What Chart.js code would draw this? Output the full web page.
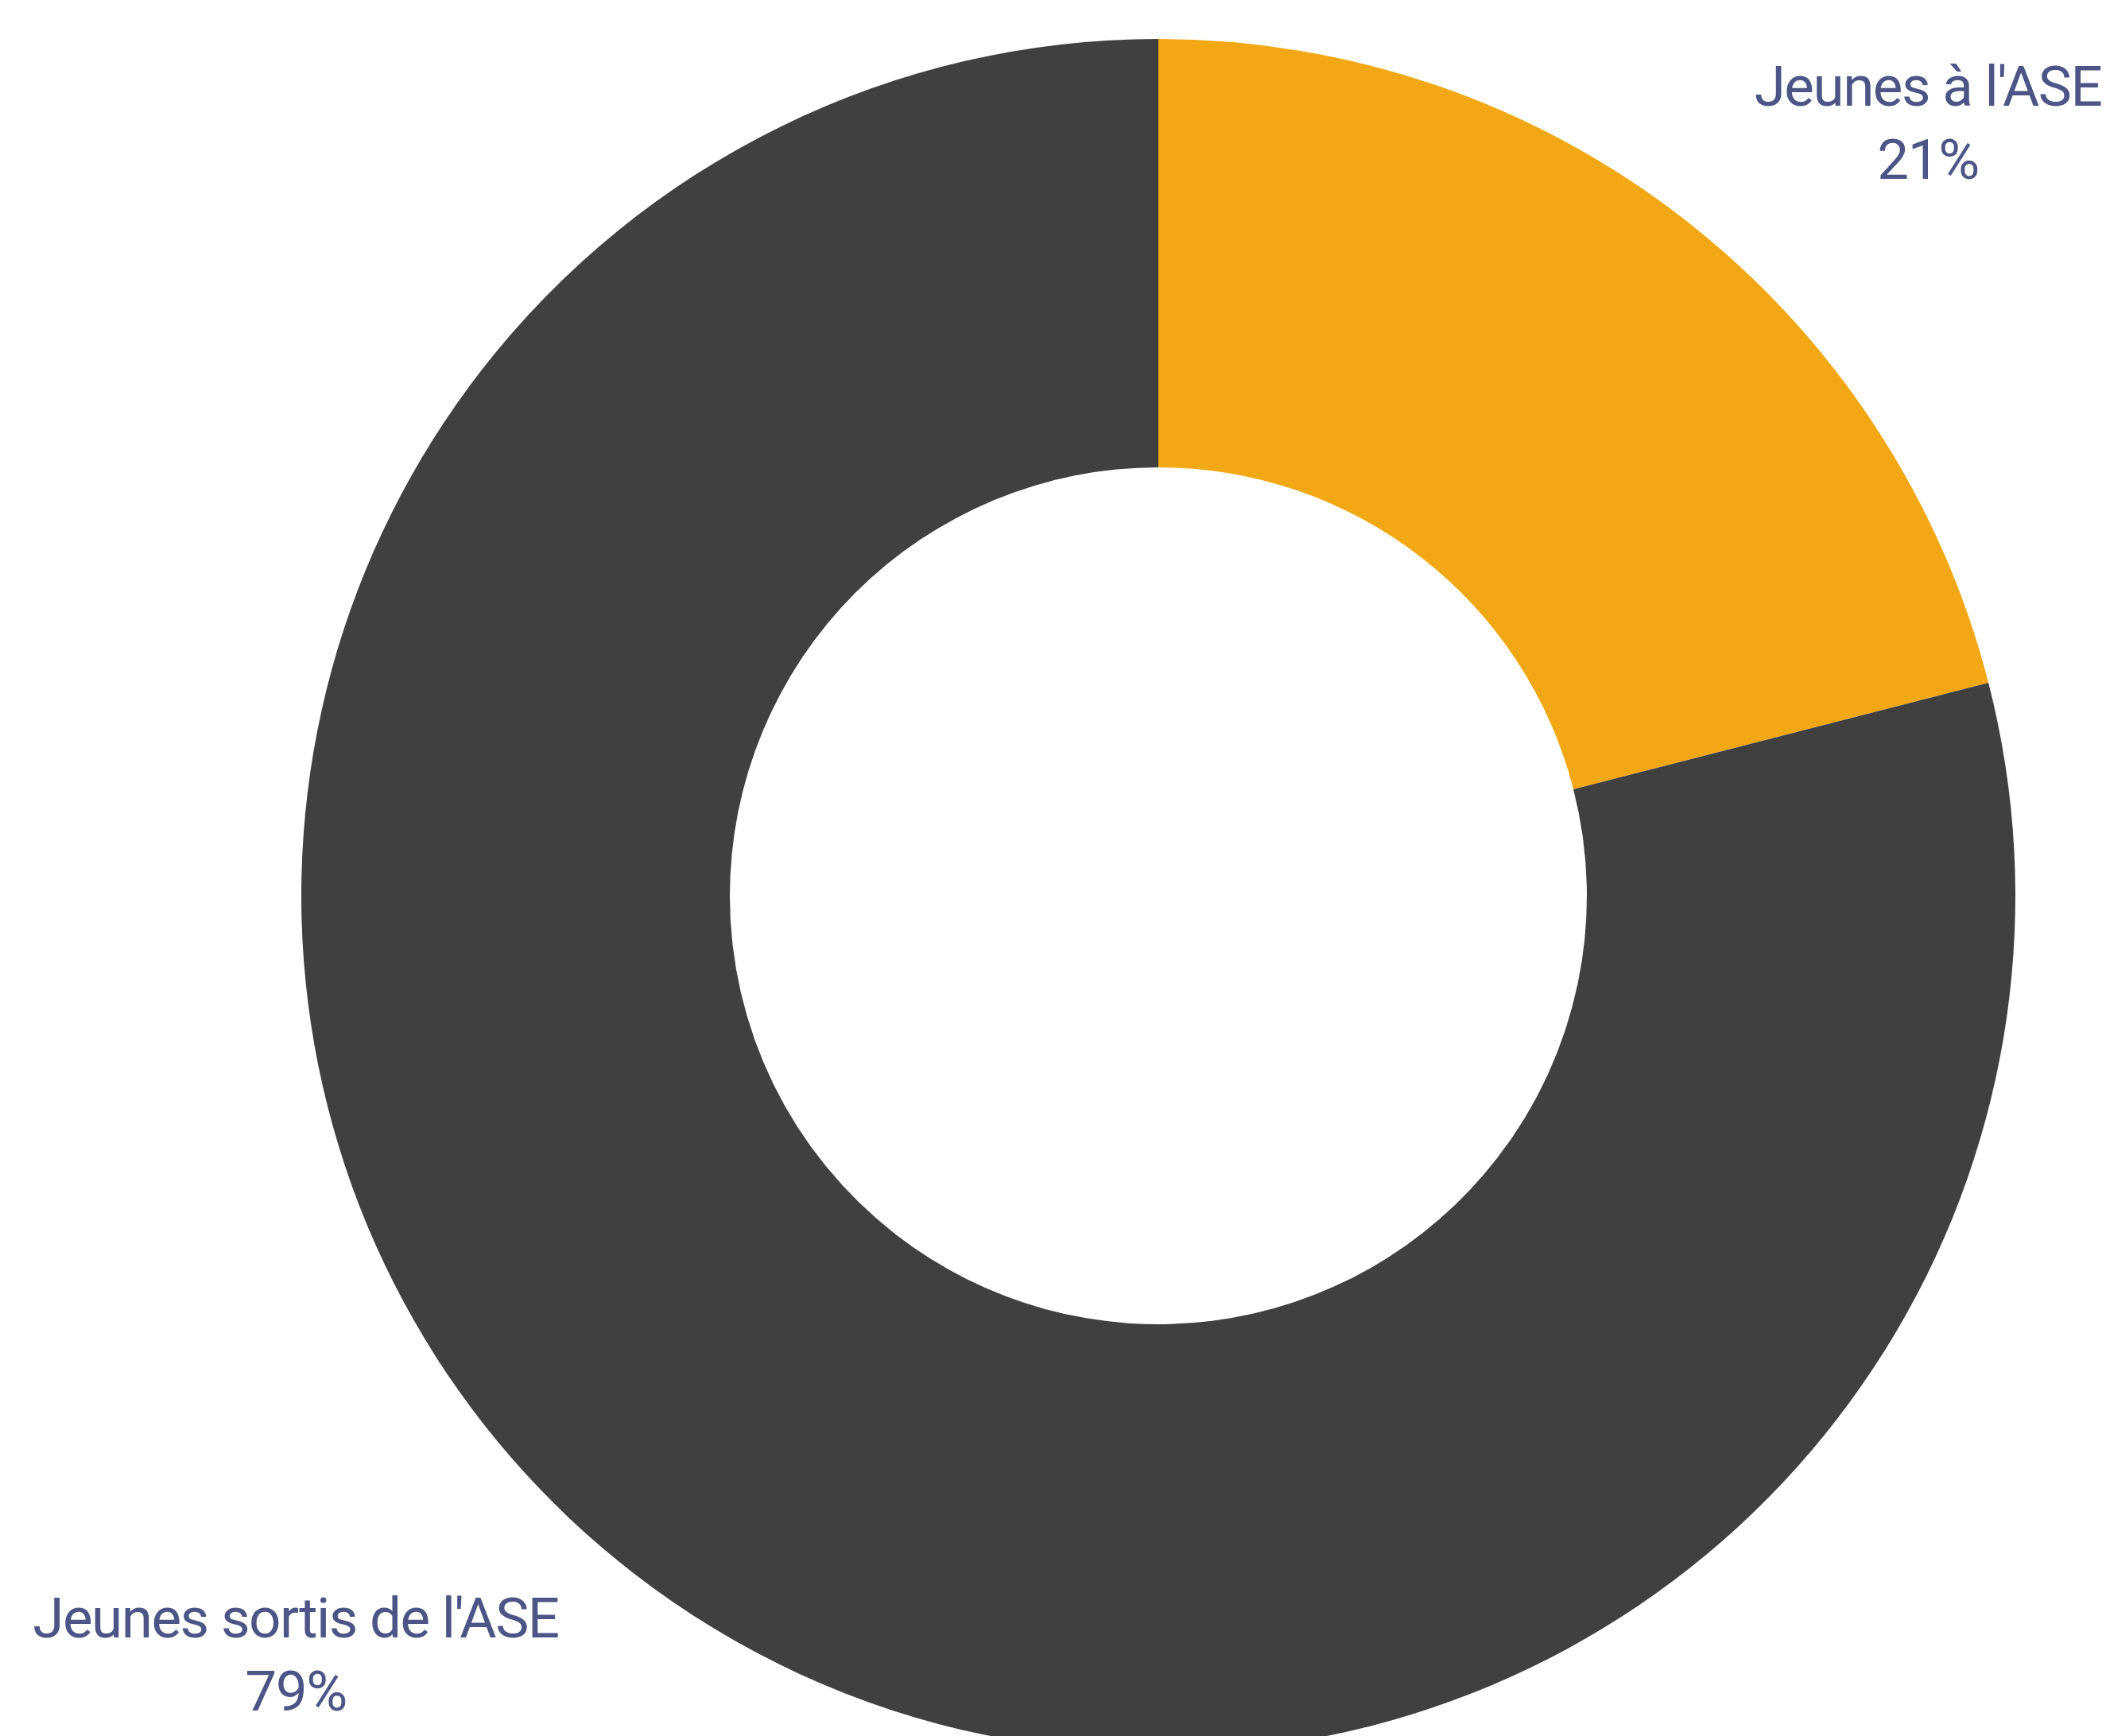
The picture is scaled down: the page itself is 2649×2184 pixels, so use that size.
<!DOCTYPE html>
<html lang="fr">
<head>
<meta charset="utf-8">
<title>Jeunes à l'ASE</title>
<script src="https://cdn.jsdelivr.net/npm/chart.js@4/dist/chart.umd.min.js"></script>
<style>
    html, body { margin: 0; padding: 0; background: #ffffff; overflow: hidden; }
    #wrap { width: 2649px; height: 2184px; overflow: hidden; }
    canvas { display: block; }
</style>
</head>
<body>
<div id="wrap">
    <canvas id="aseChart" width="2649" height="2254"></canvas>
</div>
<script>
const categories = ["Jeunes à l'ASE", "Jeunes sortis de l'ASE"];
const shares = [21, 79];
const sliceColors = ["#f2a814", "#404040"];

// where each label block is anchored (centre x, first baseline y)
const labelAnchors = [
    { x: 2425, y: 133 },
    { x: 372, y: 2060 }
];

const sliceLabels = {
    id: "sliceLabels",
    afterDraw(chart) {
        const ctx = chart.ctx;
        const values = chart.data.datasets[0].data;
        ctx.save();
        ctx.fillStyle = "#4d5586";
        ctx.textAlign = "center";
        ctx.textBaseline = "alphabetic";
        ctx.font = "400 71px Roboto";
        ctx.letterSpacing = "-1.5px";
        chart.data.labels.forEach((label, i) => {
            const a = labelAnchors[i];
            ctx.fillText(label, a.x, a.y);
            ctx.fillText(values[i] + "%", a.x, a.y + 92);
        });
        ctx.restore();
    }
};

document.addEventListener("DOMContentLoaded", () => {
    const ctx = document.getElementById("aseChart").getContext("2d");
    new Chart(ctx, {
        type: "doughnut",
        data: {
            labels: categories,
            datasets: [{
                data: shares,
                backgroundColor: sliceColors,
                borderWidth: 0,
                hoverOffset: 0
            }]
        },
        options: {
            responsive: false,
            animation: false,
            cutout: "50%",
            layout: {
                padding: { top: 49, bottom: 49, left: 379, right: 114 }
            },
            plugins: {
                legend: { display: false },
                tooltip: { enabled: false }
            }
        },
        plugins: [sliceLabels]
    });
});
</script>
</body>
</html>
